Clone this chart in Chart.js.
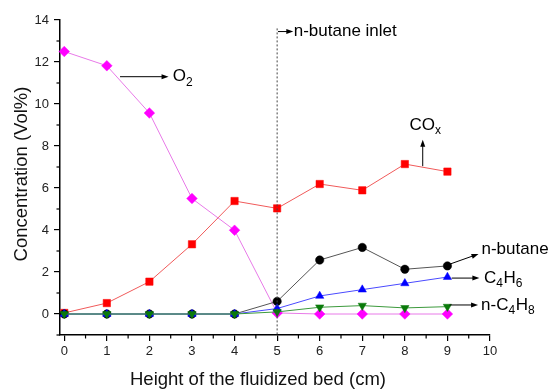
<!DOCTYPE html>
<html>
<head>
<meta charset="utf-8">
<script src="https://cdn.jsdelivr.net/npm/chart.js@4/dist/chart.umd.min.js"></script>
<style>
  html, body { margin: 0; padding: 0; background: #fff; }
  #wrap { width: 555px; height: 391px; position: relative; }
</style>
</head>
<body>
<div id="wrap"><canvas id="chart"></canvas></div>
<script>
  // bed height (cm) and gas concentrations (Vol%)
  const heights = [0, 1, 2, 3, 4, 5, 6, 7, 8, 9];
  const o2 = [12.5, 11.82, 9.57, 5.5, 3.99, 0.05, 0, 0, 0, 0];
  const cox = [0.05, 0.52, 1.54, 3.32, 5.38, 5.03, 6.19, 5.89, 7.14, 6.78];
  const nButane = [0, 0, 0, 0, 0, 0.6, 2.57, 3.17, 2.13, 2.29];
  const c4h6 = [0, 0, 0, 0, 0, 0.26, 0.86, 1.16, 1.46, 1.76];
  const nC4h8 = [0, 0, 0, 0, 0, 0.1, 0.32, 0.4, 0.29, 0.35];

  const xTicks = [0, 1, 2, 3, 4, 5, 6, 7, 8, 9, 10];
  const yTicks = [0, 2, 4, 6, 8, 10, 12, 14];
  const inletHeight = 5;

  const fontFamily = "'Liberation Sans', Arial, sans-serif";
  Chart.defaults.font.family = fontFamily;

  const pts = (vals) => heights.map((h, i) => ({x: h, y: vals[i]}));

  // arrow labels, in data units: [from, to, text parts, text anchor]
  const notes = [
      {from: [1.31, 11.3], to: [2.45, 11.3], parts: [['O', 0], ['2', 1]], at: [2.55, 11.3]},
      {from: [8.42, 7.04], to: [8.42, 8.3], parts: [['CO', 0], ['x', 1]], at: [8.11, 9.0]},
      {from: [9.05, 2.37], to: [9.73, 2.86], parts: [['n-butane', 0]], at: [9.8, 3.08]},
      {from: [9.1, 1.71], to: [9.75, 1.71], parts: [['C', 0], ['4', 1], ['H', 0], ['6', 1]], at: [9.86, 1.71]},
      {from: [9.05, 0.43], to: [9.72, 0.43], parts: [['n-C', 0], ['4', 1], ['H', 0], ['8', 1]], at: [9.79, 0.43]},
      {from: [5.02, 13.45], to: [5.38, 13.45], parts: [['n-butane inlet', 0]], at: [5.39, 13.45]}
  ];

  function arrow(ctx, x1, y1, x2, y2) {
      const a = Math.atan2(y2 - y1, x2 - x1);
      ctx.beginPath();
      ctx.moveTo(x1, y1);
      ctx.lineTo(x2 - Math.cos(a) * 5, y2 - Math.sin(a) * 5);
      ctx.stroke();
      ctx.beginPath();
      ctx.moveTo(x2, y2);
      ctx.lineTo(x2 - Math.cos(a) * 7 + Math.sin(a) * 2.5, y2 - Math.sin(a) * 7 - Math.cos(a) * 2.5);
      ctx.lineTo(x2 - Math.cos(a) * 7 - Math.sin(a) * 2.5, y2 - Math.sin(a) * 7 + Math.cos(a) * 2.5);
      ctx.closePath();
      ctx.fill();
  }

  const extras = {
      id: 'extras',
      afterDraw: (chart) => {
          const ctx = chart.ctx;
          const xs = chart.scales.x, ys = chart.scales.y;
          const area = chart.chartArea;
          ctx.save();

          // minor ticks
          ctx.strokeStyle = '#000';
          ctx.lineWidth = 1.2;
          for (let v = 0.5; v < 10; v += 1) {
              const px = xs.getPixelForValue(v);
              ctx.beginPath();
              ctx.moveTo(px, area.bottom);
              ctx.lineTo(px, area.bottom + 3.5);
              ctx.stroke();
          }
          for (let v = -1; v < 14; v += 2) {
              const py = ys.getPixelForValue(v);
              ctx.beginPath();
              ctx.moveTo(area.left, py);
              ctx.lineTo(area.left - 3.5, py);
              ctx.stroke();
          }

          // inlet marker
          const ix = xs.getPixelForValue(inletHeight);
          ctx.strokeStyle = '#444';
          ctx.lineWidth = 1;
          ctx.setLineDash([2, 2]);
          ctx.beginPath();
          ctx.moveTo(ix, ys.getPixelForValue(13.6));
          ctx.lineTo(ix, area.bottom);
          ctx.stroke();
          ctx.setLineDash([]);

          // arrow labels
          ctx.strokeStyle = '#000';
          ctx.fillStyle = '#000';
          ctx.lineWidth = 1;
          ctx.textBaseline = 'middle';
          ctx.textAlign = 'left';
          notes.forEach(n => {
              arrow(ctx, xs.getPixelForValue(n.from[0]), ys.getPixelForValue(n.from[1]),
                xs.getPixelForValue(n.to[0]), ys.getPixelForValue(n.to[1]));
              let tx = xs.getPixelForValue(n.at[0]);
              const ty = ys.getPixelForValue(n.at[1]);
              n.parts.forEach(p => {
                  ctx.font = p[1] ? `12px ${fontFamily}` : `17px ${fontFamily}`;
                  ctx.fillText(p[0], tx, p[1] ? ty + 6 : ty);
                  tx += ctx.measureText(p[0]).width + (p[1] ? 0.5 : 0);
              });
          });

          // axis titles
          ctx.fillStyle = '#111';
          ctx.textAlign = 'center';
          ctx.font = `18.5px ${fontFamily}`;
          ctx.fillText('Height of the fluidized bed (cm)', 258, 380);
          ctx.translate(22, 174);
          ctx.rotate(-Math.PI / 2);
          ctx.fillText('Concentration (Vol%)', 0, 0);
          ctx.restore();
      }
  };

  const series = [
      {label: 'O2', data: pts(o2), borderColor: '#e87ae8', backgroundColor: '#ff00ff',
          pointStyle: 'rectRot', pointRadius: 5.3, order: 4},
      {label: 'COx', data: pts(cox), borderColor: '#f05a5a', backgroundColor: '#ff0000',
          pointStyle: 'rect', pointRadius: 5.2, order: 5},
      {label: 'n-butane', data: pts(nButane), borderColor: '#555', backgroundColor: '#000',
          pointStyle: 'circle', pointRadius: 4.2, order: 3},
      {label: 'C4H6', data: pts(c4h6), borderColor: '#4a4aff', backgroundColor: '#0000ff',
          pointStyle: 'triangle', pointRadius: 4.8, order: 2},
      {label: 'n-C4H8', data: pts(nC4h8), borderColor: '#3c9a3c', backgroundColor: '#0a7a0a',
          pointStyle: 'triangle', pointRotation: 180, pointRadius: 4.8, order: 1}
  ];
  series.forEach(s => {
      s.borderWidth = 1;
      s.pointBorderWidth = 0.5;
      s.pointBorderColor = s.backgroundColor;
      s.pointBackgroundColor = s.backgroundColor;
      s.tension = 0;
      s.clip = false;
  });

  new Chart(document.getElementById('chart'), {
      type: 'line',
      data: {datasets: series},
      plugins: [extras],
      options: {
          responsive: true,
          maintainAspectRatio: false,
          animation: false,
          layout: {padding: {left: 0, top: 20, right: 65, bottom: 0}},
          plugins: {legend: {display: false}, tooltip: {enabled: false}},
          scales: {
              x: {
                  type: 'linear',
                  min: -0.1,
                  max: 10,
                  afterBuildTicks: (s) => { s.ticks = xTicks.map(v => ({value: v})); },
                  afterFit: (s) => { s.height = 56; },
                  ticks: {color: '#222', font: {size: 13}, padding: 3, maxRotation: 0},
                  grid: {display: true, drawOnChartArea: false, drawTicks: true, tickLength: 6,
                      color: '#000', lineWidth: 1.2},
                  border: {display: true, color: '#000', width: 1.5}
              },
              y: {
                  type: 'linear',
                  min: -1,
                  max: 14,
                  afterBuildTicks: (s) => { s.ticks = yTicks.map(v => ({value: v})); },
                  afterFit: (s) => { s.width = 60; },
                  ticks: {color: '#222', font: {size: 13}, padding: 5},
                  grid: {display: true, drawOnChartArea: false, drawTicks: true, tickLength: 6,
                      color: '#000', lineWidth: 1.2},
                  border: {display: true, color: '#000', width: 1.5}
              }
          }
      }
  });
</script>
</body>
</html>
